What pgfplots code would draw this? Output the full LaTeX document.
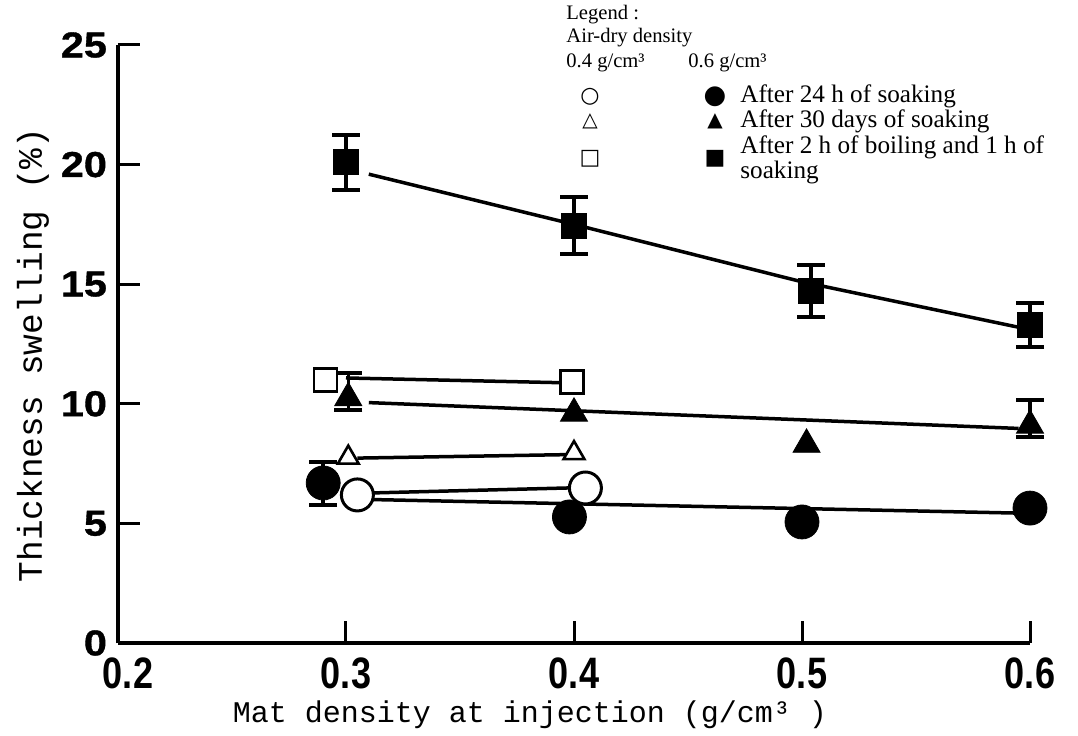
\documentclass[border=0pt]{standalone}
\usepackage{fontspec}
\usepackage{pgfplots}
\pgfplotsset{compat=1.18}
\setmainfont{Liberation Serif}
\newfontfamily\tickY[FakeStretch=1.15, BoldFeatures={FakeBold=1}]{Liberation Sans}
\newfontfamily\tickX[FakeStretch=0.82]{Liberation Sans}
\newfontfamily\labfont{Liberation Mono}
\newfontfamily\symfont{DejaVu Sans}
\begin{document}
\begin{tikzpicture}
\path[use as bounding box] (-59pt,-46pt) rectangle (480pt,321.5pt);
\begin{axis}[
  at={(0pt,0pt)}, anchor=south west,
  scale only axis, width=456pt, height=299pt,
  xmin=0.2, xmax=0.6, ymin=0, ymax=25,
  axis x line=bottom, axis y line=left,
  axis line style={-, line width=1.8pt},
  tick align=inside, major tick length=11pt,
  every tick/.style={black, line width=1.5pt},
  xtick={0.2,0.3,0.4,0.5,0.6},
  xticklabels={\hspace*{10pt}0.2,0.3,0.4,0.5,0.6},
  ytick={0,5,10,15,20,25},
  /pgf/number format/assume math mode=true,
  yticklabel style={font=\tickY\bfseries\fontsize{18pt}{18pt}\selectfont, xshift=-2pt},
  xticklabel style={font=\tickX\bfseries\fontsize{22pt}{22pt}\selectfont, yshift=-4pt},
  clip=false,
]
% regression lines
\addplot[black, line width=1.75pt] coordinates {(0.31,19.6) (0.4,17.5) (0.5,15.1) (0.595,13.2)};
\addplot[black, line width=1.75pt] coordinates {(0.31,10.05) (0.595,8.97)};
\addplot[black, line width=1.75pt] coordinates {(0.30,11.08) (0.40,10.87)};
\addplot[black, line width=1.75pt] coordinates {(0.305,7.73) (0.40,7.88)};
\addplot[black, line width=1.75pt] coordinates {(0.31,6.27) (0.405,6.5)};
\addplot[black, line width=1.75pt] coordinates {(0.31,6.0) (0.595,5.43)};
% filled squares (0.6 g/cm3, boiling)
\addplot[black, only marks, mark=square*, mark size=6.25pt,
  error bars/.cd, y dir=both, y explicit,
  error bar style={line width=1.75pt},
  error mark options={rotate=90, mark size=7pt, line width=2pt}]
  coordinates {(0.300,20.1) +- (0,1.15) (0.400,17.45) +- (0,1.2) (0.504,14.72) +- (0,1.09) (0.600,13.28) +- (0,0.92)};
% open squares (0.4 g/cm3, boiling)
\addplot[black, only marks, mark=square*, mark size=5.75pt, mark options={fill=white, line width=1.3pt}]
  coordinates {(0.291,11.0) (0.399,10.9)};
% filled triangles (0.6 g/cm3, 30 days)
\addplot[black, only marks, mark=triangle*, mark size=7.8pt,
  error bars/.cd, y dir=both, y explicit,
  error bar style={line width=1.75pt},
  error mark options={rotate=90, mark size=7pt, line width=2pt}]
  coordinates {(0.301,10.25) += (0,1.04) -= (0,0.51) (0.400,9.6) (0.502,8.3) (0.600,9.1) += (0,1.06) -= (0,0.49)};
% open triangles (0.4 g/cm3, 30 days)
\addplot[black, only marks, mark=triangle*, mark size=6pt, mark options={fill=white, line width=1.3pt}]
  coordinates {(0.301,7.75) (0.400,7.94)};
% filled circles (0.6 g/cm3, 24 h)
\addplot[black, only marks, mark=*, mark size=8.5pt,
  error bars/.cd, y dir=both, y explicit,
  error bar style={line width=1.75pt},
  error mark options={rotate=90, mark size=7pt, line width=2pt}]
  coordinates {(0.290,6.69) += (0,0.88) -= (0,0.92) (0.398,5.27) (0.500,5.06) (0.600,5.64)};
% open circles (0.4 g/cm3, 24 h)
\addplot[black, only marks, mark=*, mark size=8pt, mark options={fill=white, line width=1.5pt}]
  coordinates {(0.305,6.19) (0.405,6.48)};
\end{axis}
% axis labels
\node[rotate=90, font=\labfont\fontsize{17.2pt}{17pt}\selectfont] at (-42.5pt,144pt) {Thickness swelling (\%)};
\node[font=\labfont\fontsize{15pt}{15pt}\selectfont] at (206pt,-36pt) {Mat density at injection (g/cm³ )};
% legend
\begin{scope}[every node/.style={inner sep=0pt}]
\begin{scope}[every node/.append style={font=\fontsize{10.3pt}{10.3pt}\selectfont}]
\node[anchor=west] at (224pt,314pt) {Legend :};
\node[anchor=west] at (224pt,302.5pt) {Air-dry density};
\node[anchor=west] at (224pt,290pt) {0.4 g/cm³};
\node[anchor=west] at (285pt,290pt) {0.6 g/cm³};
\end{scope}
\node at (236pt,273pt) {\symfont\fontsize{11pt}{11pt}\selectfont ○};
\node at (298.5pt,273pt) {\symfont\fontsize{13pt}{13pt}\selectfont ●};
\node at (236pt,261pt) {\symfont\fontsize{10pt}{10pt}\selectfont △};
\node at (298.5pt,261pt) {\symfont\fontsize{10pt}{10pt}\selectfont ▲};
\node at (236pt,242pt) {\symfont\fontsize{11pt}{11pt}\selectfont □};
\node at (298.5pt,242pt) {\symfont\fontsize{11pt}{11pt}\selectfont ■};
\begin{scope}[every node/.append style={font=\fontsize{12.6pt}{12.6pt}\selectfont}]
\node[anchor=west] at (311pt,273.5pt) {After 24 h of soaking};
\node[anchor=west] at (311pt,261pt) {After 30 days of soaking};
\node[anchor=west] at (311pt,248pt) {After 2 h of boiling and 1 h of};
\node[anchor=west] at (311pt,235.5pt) {soaking};
\end{scope}
\end{scope}
\end{tikzpicture}
\end{document}
